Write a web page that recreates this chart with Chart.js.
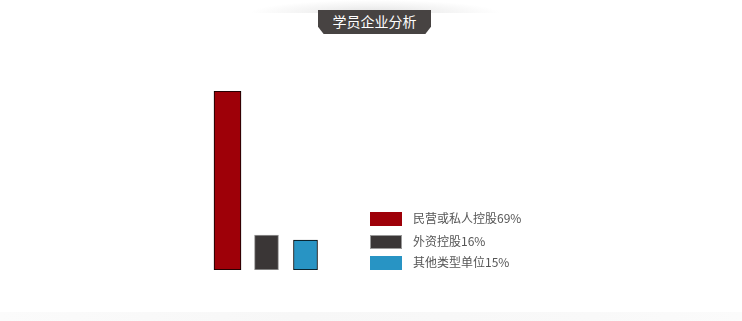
<!DOCTYPE html>
<html>
<head>
<meta charset="utf-8">
<script src="https://cdn.jsdelivr.net/npm/chart.js@4/dist/chart.umd.min.js"></script>
<style>
html,body{margin:0;padding:0;background:#fff;width:742px;height:321px;overflow:hidden;}
#wrap{position:relative;width:742px;height:321px;}
#topshade{position:absolute;left:250px;top:0;width:250px;height:13px;
  background:radial-gradient(ellipse 50% 100% at 50% 100%, #e2e2e2 0%, #f3f3f3 55%, rgba(255,255,255,0) 100%);}
#banner{position:absolute;left:318px;top:10px;width:113px;height:24px;background:#474342;
  clip-path:polygon(0 0,100% 0,100% 70%,95% 100%,5% 100%,0 70%);
  color:#fff;font-family:"Noto Sans CJK SC",sans-serif;font-size:14px;line-height:23px;text-align:center;}
#bottomband{position:absolute;left:0;top:312px;width:742px;height:9px;
  background:linear-gradient(to right,#fbfbfb,#f7f7f7 40%,#f9f9f9 80%,#fbfbfb);}
canvas{position:absolute;left:0;top:0;}
</style>
</head>
<body>
<div id="wrap">
<div id="topshade"></div>
<div id="bottomband"></div>
<div id="banner">学员企业分析</div>
<canvas id="c" width="742" height="321"></canvas>
</div>
<script>
const categories = ['民营或私人控股', '外资控股', '其他类型单位'];
const legendLabels = ['民营或私人控股69%', '外资控股16%', '其他类型单位15%'];
const barHeights = [69, 13.5, 11.5];
const colors = ['#9e0008', '#3a3636', '#2894c4'];
const borders = ['#000000', '#999999', '#000000'];

const datasets = categories.map((c, i) => ({
  label: legendLabels[i],
  data: categories.map((_, j) => j === i ? barHeights[i] : null),
  backgroundColor: colors[i],
  borderColor: borders[i],
  borderWidth: 1,
  borderSkipped: false,
  barThickness: i === 0 ? 27 : 24,
  skipNull: true
}));

const legendPlugin = {
  id: 'customLegend',
  afterDraw(chart) {
    const ctx = chart.ctx;
    ctx.save();
    const tops = [212, 235, 256];
    chart.data.datasets.forEach((ds, i) => {
      const y = tops[i];
      ctx.fillStyle = ds.backgroundColor;
      ctx.fillRect(370, y, 32, 14);
      if (i === 1) {
        ctx.strokeStyle = '#999999';
        ctx.lineWidth = 1;
        ctx.strokeRect(370.5, y + 0.5, 31, 13);
      }
      ctx.fillStyle = '#555555';
      ctx.font = '12px "Noto Sans CJK SC", sans-serif';
      ctx.textBaseline = 'middle';
      ctx.fillText(ds.label, 413, y + 6.5);
    });
    ctx.restore();
  }
};

new Chart(document.getElementById('c'), {
  type: 'bar',
  data: { labels: categories, datasets },
  options: {
    responsive: false,
    animation: false,
    layout: { padding: { left: 208, right: 417, top: 91, bottom: 51 } },
    plugins: { legend: { display: false }, tooltip: { enabled: false } },
    scales: {
      x: { display: false, stacked: true, offset: true },
      y: { display: false, stacked: true, min: 0, max: 69 }
    }
  },
  plugins: [legendPlugin]
});
</script>
</body>
</html>
